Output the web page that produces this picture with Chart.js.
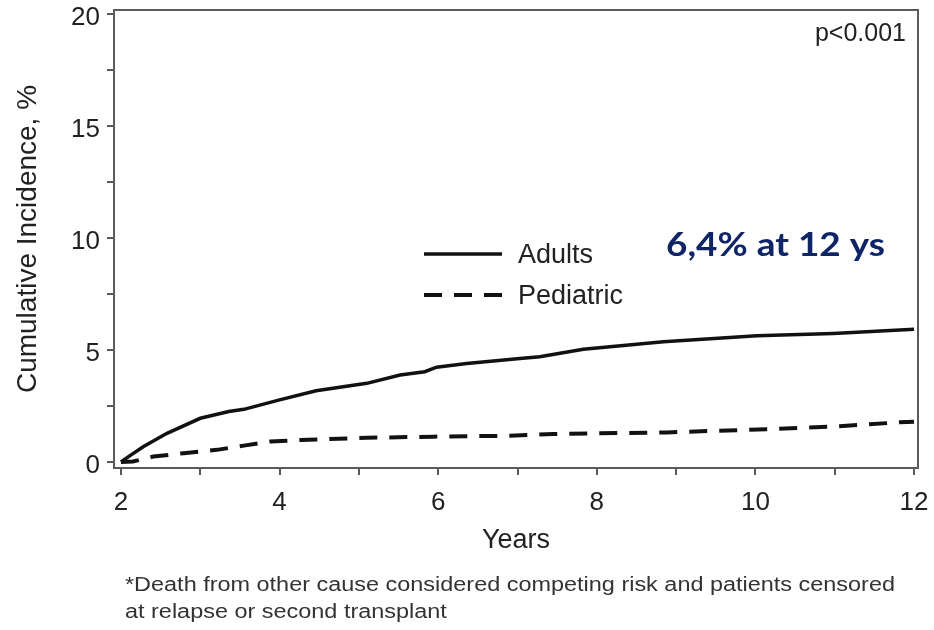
<!DOCTYPE html>
<html>
<head>
<meta charset="utf-8">
<script src="https://cdn.jsdelivr.net/npm/chart.js@4.4.1/dist/chart.umd.min.js"></script>
<style>
  html, body { margin: 0; padding: 0; background: #ffffff; }
  #wrap { width: 934px; height: 630px; position: relative; }
</style>
</head>
<body>
<div id="wrap"><canvas id="chart" width="934" height="630"></canvas></div>
<script>
// Cumulative incidence over follow-up (years), by age group
const adultsYears = [2.0, 2.1, 2.28, 2.58, 3.0, 3.36, 3.55, 4.0, 4.46, 5.1, 5.52, 5.83, 5.98, 6.36, 7.03, 7.28, 7.83, 8.84, 10.02, 10.98, 12.0];
const adultsPct   = [0.0, 0.25, 0.68, 1.28, 1.95, 2.25, 2.35, 2.77, 3.18, 3.51, 3.88, 4.03, 4.23, 4.4, 4.62, 4.70, 5.03, 5.37, 5.63, 5.74, 5.92];

const pediatricYears = [2.0, 2.15, 2.41, 2.79, 3.21, 3.55, 3.88, 4.26, 5.1, 5.94, 6.9, 7.45, 8.88, 10.14, 10.98, 11.82, 12.0];
const pediatricPct   = [0.0, 0.02, 0.24, 0.39, 0.54, 0.73, 0.91, 0.98, 1.08, 1.13, 1.17, 1.25, 1.32, 1.46, 1.58, 1.77, 1.8];

const xTickValues = [2, 3, 4, 5, 6, 7, 8, 9, 10, 11, 12];
const xTickLabels = ['2', '', '4', '', '6', '', '8', '', '10', '', '12'];
const yTickValues = [0, 2.5, 5, 7.5, 10, 12.5, 15, 17.5, 20];
const yTickLabels = ['0', '', '5', '', '10', '', '15', '', '20'];

const seriesNames = ['Adults', 'Pediatric'];
const pValueText = 'p<0.001';
const highlightText = '6,4% at 12 ys';
const footnoteLines = [
  '*Death from other cause considered competing risk and patients censored',
  'at relapse or second transplant'
];

const toPoints = (xs, ys) => xs.map((x, i) => ({ x: x, y: ys[i] }));

const AXIS_COLOR = '#5a5a5a';
const TEXT_COLOR = '#222222';
const SANS = '"Liberation Sans", Arial, sans-serif';

// Draws text with a horizontal stretch factor
function wideText(ctx, text, x, y, stretch) {
  ctx.save();
  ctx.translate(x, y);
  ctx.scale(stretch, 1);
  ctx.fillText(text, 0, 0);
  ctx.restore();
}

// Frame, in-plot legend, annotations and footnote
const decorations = {
  id: 'decorations',
  afterDraw(chart) {
    const { ctx, chartArea: a } = chart;
    ctx.save();
    // box around the plot
    ctx.strokeStyle = AXIS_COLOR;
    ctx.lineWidth = 2;
    ctx.strokeRect(a.left, a.top, a.right - a.left, a.bottom - a.top);

    // legend
    const rows = [254, 295];
    chart.data.datasets.forEach((ds, i) => {
      const y = rows[i];
      ctx.strokeStyle = ds.borderColor;
      ctx.lineWidth = ds.borderWidth;
      ctx.setLineDash(ds.borderDash || []);
      ctx.beginPath();
      ctx.moveTo(424, y);
      ctx.lineTo(502, y);
      ctx.stroke();
      ctx.setLineDash([]);
      ctx.fillStyle = TEXT_COLOR;
      ctx.font = '27px ' + SANS;
      ctx.textAlign = 'left';
      ctx.textBaseline = 'middle';
      ctx.fillText(ds.label, 518, y + 2);
    });

    // p-value
    ctx.fillStyle = TEXT_COLOR;
    ctx.font = '25px ' + SANS;
    ctx.textAlign = 'right';
    ctx.textBaseline = 'middle';
    ctx.fillText(pValueText, 906, 34);

    // highlighted result
    ctx.fillStyle = '#0f2566';
    ctx.font = 'bold 32px Lato, "Open Sans", sans-serif';
    ctx.textAlign = 'left';
    ctx.textBaseline = 'alphabetic';
    wideText(ctx, highlightText, 666, 256, 219 / ctx.measureText(highlightText).width);

    // footnote
    ctx.fillStyle = '#333333';
    ctx.font = '20px ' + SANS;
    ctx.textAlign = 'left';
    ctx.textBaseline = 'alphabetic';
    const stretch = 770 / ctx.measureText(footnoteLines[0]).width;
    footnoteLines.forEach((t, i) => wideText(ctx, t, 125, 591 + i * 27, stretch));
    ctx.restore();
  }
};

new Chart(document.getElementById('chart'), {
  type: 'line',
  data: {
    datasets: [
      {
        label: seriesNames[0],
        data: toPoints(adultsYears, adultsPct),
        borderColor: '#111111',
        borderWidth: 3.5,
        pointRadius: 0,
        tension: 0,
        fill: false
      },
      {
        label: seriesNames[1],
        data: toPoints(pediatricYears, pediatricPct),
        borderColor: '#111111',
        borderWidth: 4,
        borderDash: [18, 12],
        pointRadius: 0,
        tension: 0,
        fill: false
      }
    ]
  },
  options: {
    responsive: false,
    animation: false,
    layout: { padding: { left: 0, right: 16, top: 10, bottom: 0 } },
    plugins: {
      legend: { display: false },
      tooltip: { enabled: false }
    },
    scales: {
      x: {
        type: 'linear',
        min: 1.912,
        max: 12.05,
        afterBuildTicks: (scale) => { scale.ticks = xTickValues.map(v => ({ value: v })); },
        afterFit: (scale) => {
          scale.height = 162;
          scale.paddingLeft = 0;
          scale.paddingRight = 0;
        },
        border: { display: true, color: AXIS_COLOR, width: 2 },
        grid: { drawOnChartArea: false, drawTicks: true, tickLength: 7, tickColor: AXIS_COLOR, lineWidth: 2 },
        ticks: {
          autoSkip: false,
          maxRotation: 0,
          padding: 12,
          color: TEXT_COLOR,
          font: { family: SANS, size: 26 },
          callback: (v) => { const i = xTickValues.indexOf(v); return i >= 0 ? xTickLabels[i] : ''; }
        },
        title: {
          display: true,
          text: 'Years',
          color: TEXT_COLOR,
          font: { family: SANS, size: 27 },
          padding: { top: 0, bottom: 73 }
        }
      },
      y: {
        type: 'linear',
        min: -0.27,
        max: 20.18,
        afterBuildTicks: (scale) => { scale.ticks = yTickValues.map(v => ({ value: v })); },
        afterFit: (scale) => {
          scale.width = 114;
          scale.paddingTop = 0;
          scale.paddingBottom = 0;
        },
        border: { display: true, color: AXIS_COLOR, width: 2 },
        grid: { drawOnChartArea: false, drawTicks: true, tickLength: 7, tickColor: AXIS_COLOR, lineWidth: 2 },
        ticks: {
          autoSkip: false,
          padding: 7,
          labelOffset: 4,
          color: TEXT_COLOR,
          font: { family: SANS, size: 26 },
          callback: (v) => { const i = yTickValues.indexOf(v); return i >= 0 ? yTickLabels[i] : ''; }
        },
        title: {
          display: true,
          text: 'Cumulative Incidence, %',
          color: TEXT_COLOR,
          font: { family: SANS, size: 28 },
          padding: { top: 11, bottom: 0 }
        }
      }
    }
  },
  plugins: [decorations]
});
</script>
</body>
</html>
